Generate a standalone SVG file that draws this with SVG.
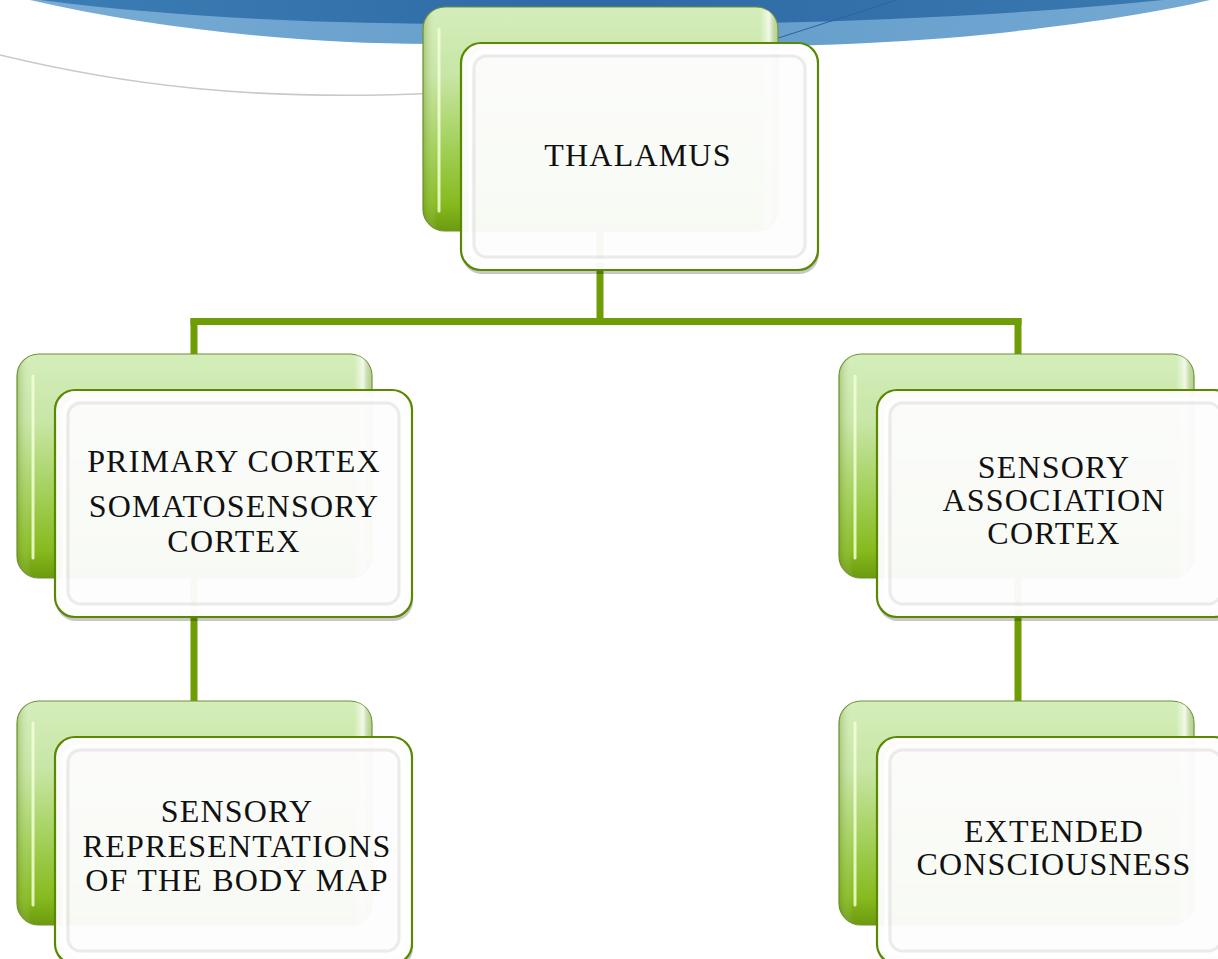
<svg xmlns="http://www.w3.org/2000/svg" xmlns:xlink="http://www.w3.org/1999/xlink" width="1218" height="959" viewBox="0 0 1218 959">
  <style>
    .lbl { font-family: "Liberation Serif", "Times New Roman", serif; font-size: 32px; letter-spacing: 1.2px; fill: #111; text-anchor: middle; }
    .conn { stroke: #6e9d05; stroke-width: 7; fill: none; stroke-linecap: butt; }
  </style>
  <defs>
    <linearGradient id="gBack" x1="0" y1="0" x2="0" y2="1">
      <stop offset="0" stop-color="#d4eebb"/>
      <stop offset="0.3" stop-color="#c8e6a6"/>
      <stop offset="0.62" stop-color="#a3d05a"/>
      <stop offset="0.88" stop-color="#86ba1e"/>
      <stop offset="1" stop-color="#6c9a0e"/>
    </linearGradient>
    <linearGradient id="gBackSide" x1="0" y1="0" x2="1" y2="0">
      <stop offset="0" stop-color="#5e8a10" stop-opacity="0.35"/>
      <stop offset="0.04" stop-color="#ffffff" stop-opacity="0"/>
      <stop offset="0.95" stop-color="#ffffff" stop-opacity="0"/>
      <stop offset="0.975" stop-color="#ffffff" stop-opacity="0.7"/>
      <stop offset="1" stop-color="#7a9a40" stop-opacity="0.3"/>
    </linearGradient>
    <linearGradient id="gBlueDark" x1="0" y1="0" x2="1" y2="0">
      <stop offset="0" stop-color="#3c7db5"/>
      <stop offset="0.5" stop-color="#2e6aa4"/>
      <stop offset="1" stop-color="#3a78b0"/>
    </linearGradient>
    <linearGradient id="gBlueLight" x1="0" y1="0" x2="1" y2="0">
      <stop offset="0" stop-color="#78acd4"/>
      <stop offset="0.5" stop-color="#629cca"/>
      <stop offset="1" stop-color="#74a9d2"/>
    </linearGradient>
    <g id="card">
      <rect x="0" y="0" width="355" height="224" rx="22" fill="url(#gBack)" stroke="#6f8f35" stroke-width="1.2"/>
      <rect x="0" y="0" width="355" height="224" rx="22" fill="url(#gBackSide)"/>
      <line x1="16" y1="22" x2="16" y2="204" stroke="#f4ffd8" stroke-width="3" stroke-linecap="round" opacity="0.85"/>
      <rect x="39" y="40" width="357" height="227" rx="20" fill="#000" opacity="0.22"/>
      <rect x="38" y="36" width="357" height="227" rx="20" fill="#ffffff" fill-opacity="0.955" stroke="#5a8800" stroke-width="2.2"/>
      <rect x="51" y="49" width="331" height="201" rx="13" fill="none" stroke="#d0d0d0" stroke-width="3" opacity="0.4"/>
      <rect x="47" y="45" width="339" height="209" rx="15" fill="none" stroke="#ffffff" stroke-width="3"/>
    </g>
  </defs>

  <rect x="0" y="0" width="1218" height="959" fill="#ffffff"/>

  <g id="background">
    <path d="M 30 0 C 150 28 300 44 430 44 C 600 49 800 50 947 38 C 1060 28 1150 14 1210 0 Z" fill="url(#gBlueLight)"/>
    <path d="M 40 0 C 180 18 330 24 480 24 C 700 27 950 22 1163 0 Z" fill="url(#gBlueDark)"/>
    <line x1="772" y1="40" x2="897" y2="0" stroke="#2d639a" stroke-width="1"/>
    <path d="M 0 55 C 120 84 250 102 440 93" fill="none" stroke="#c9c9c9" stroke-width="1.6"/>
  </g>

  <g id="connectors">
    <line class="conn" x1="600" y1="230" x2="600" y2="322"/>
    <line class="conn" x1="190.5" y1="321.5" x2="1021.5" y2="321.5"/>
    <line class="conn" x1="194" y1="318" x2="194" y2="360"/>
    <line class="conn" x1="1018" y1="318" x2="1018" y2="360"/>
    <line class="conn" x1="194" y1="575" x2="194" y2="705" stroke="#78ad0a"/>
    <line class="conn" x1="1018" y1="575" x2="1018" y2="705" stroke="#78ad0a"/>
  </g>

  <g id="node-thalamus">
    <use xlink:href="#card" x="423" y="7"/>
    <text class="lbl" x="638" y="166">THALAMUS</text>
  </g>

  <g id="node-primary-cortex">
    <use xlink:href="#card" x="17" y="354"/>
    <text class="lbl" x="234" y="472">PRIMARY CORTEX</text>
    <text class="lbl" x="234" y="517">SOMATOSENSORY</text>
    <text class="lbl" x="234" y="552">CORTEX</text>
  </g>

  <g id="node-sensory-association">
    <use xlink:href="#card" x="839" y="354"/>
    <text class="lbl" x="1054" y="478">SENSORY</text>
    <text class="lbl" x="1054" y="511">ASSOCIATION</text>
    <text class="lbl" x="1054" y="544">CORTEX</text>
  </g>

  <g id="node-body-map">
    <use xlink:href="#card" x="17" y="701"/>
    <text class="lbl" x="237" y="822">SENSORY</text>
    <text class="lbl" x="237" y="857">REPRESENTATIONS</text>
    <text class="lbl" x="237" y="891">OF THE BODY MAP</text>
  </g>

  <g id="node-extended-consciousness">
    <use xlink:href="#card" x="839" y="701"/>
    <text class="lbl" x="1054" y="842">EXTENDED</text>
    <text class="lbl" x="1054" y="875">CONSCIOUSNESS</text>
  </g>
</svg>
